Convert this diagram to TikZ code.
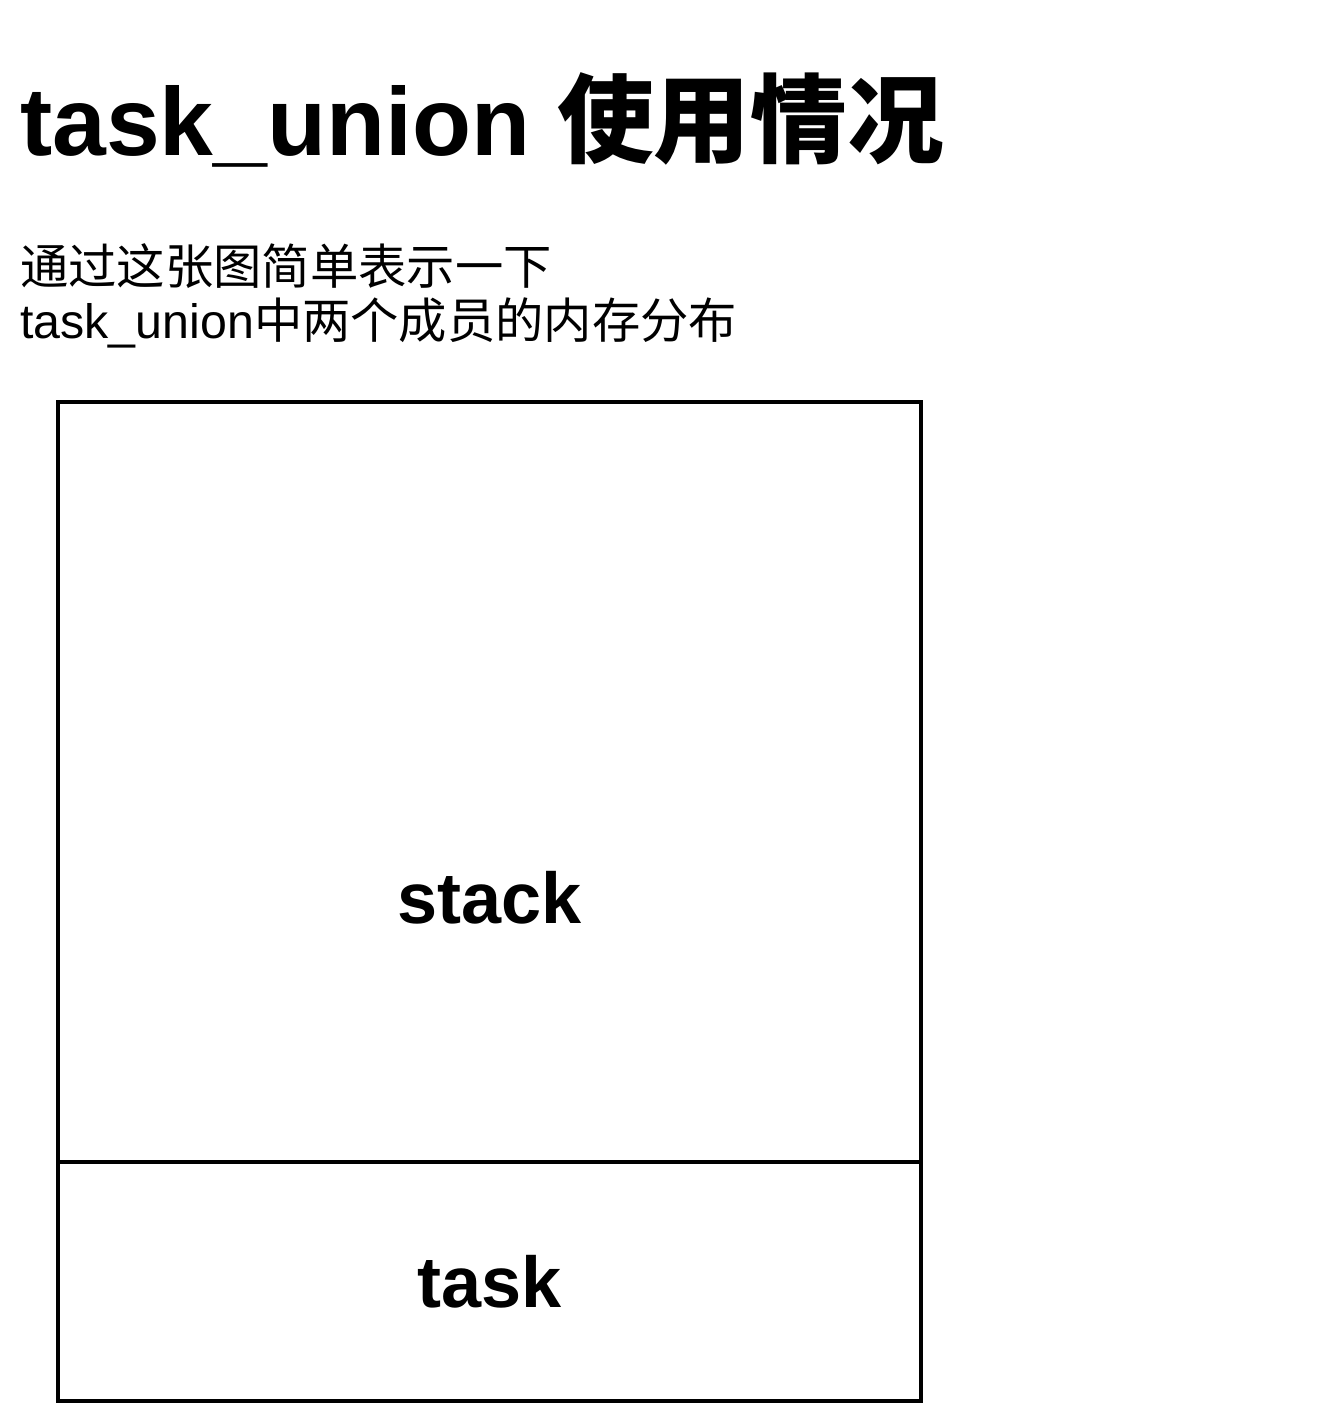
\documentclass[tikz,border=0pt]{standalone}
\usepackage{fontspec}
\setmainfont{Liberation Sans}
\newfontfamily\cjk{Noto Sans CJK SC}
\usetikzlibrary{positioning}
\tikzset{
	title/.style={anchor=base west, inner sep=0pt, font=\fontsize{55}{66}\selectfont\bfseries},
	subtitle/.style={anchor=base west, inner sep=0pt, font=\fontsize{27.5}{33}\selectfont},
	member/.style={rectangle, draw=black, line width=0.08cm, outer sep=0pt, inner sep=0pt, minimum width=17.26cm, font=\fontsize{41}{49}\selectfont\bfseries}
}
\begin{document}
\begin{tikzpicture}[x=0.02cm, y=-0.02cm]
	\useasboundingbox (0,0) rectangle (1324,1404);
	% Titel
	\node (title) [title] at (20,155) {task\_union {\cjk 使用情况}};
	\node (sub1) [subtitle] at (20,284) {\cjk 通过这张图简单表示一下};
	\node (sub2) [subtitle] at (20,338) {task\_union{\cjk 中两个成员的内存分布}};
	
	% Speicher
	\node (stack) [member, minimum height=15.2cm, label={[font=\fontsize{41}{49}\selectfont\bfseries, yshift=-2.32cm]center:stack}] at (489.5,782) {};
	\node (task) [member, minimum height=4.78cm, below=0pt of stack] {task};
\end{tikzpicture}
\end{document}
